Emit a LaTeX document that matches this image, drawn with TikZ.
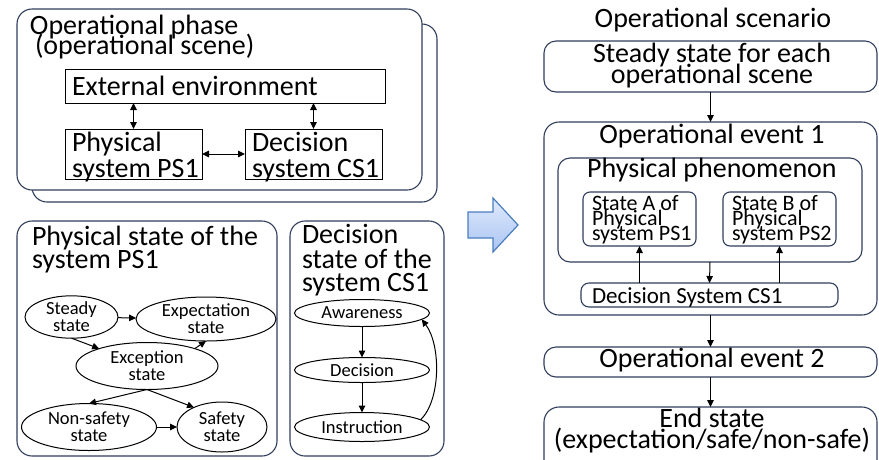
\documentclass[tikz,border=0pt]{standalone}
\usepackage{fontspec}
\setmainfont{Carlito}
\usetikzlibrary{shapes.geometric,arrows.meta,fit}

\definecolor{framec}{RGB}{48,62,92}
\definecolor{arrowtop}{RGB}{224,234,252}
\definecolor{arrowbot}{RGB}{170,196,242}
\definecolor{arrowline}{RGB}{74,126,191}

\begin{document}
\begin{tikzpicture}[x=1pt,y=-1pt,
  every node/.style={inner sep=0pt, outer sep=0pt},
  frame/.style={draw=framec, line width=1.1pt, rounded corners=#1, fill=white},
  frame/.default=15pt,
  plain/.style={draw=black, line width=1pt, fill=white},
  big/.style={font=\fontsize{28}{28}\selectfont},
  mid/.style={font=\fontsize{23}{23}\selectfont},
  small/.style={font=\fontsize{22}{22}\selectfont},
  oval/.style={ellipse, draw=black, line width=1pt, align=center,
               font=\fontsize{18.5}{17}\selectfont},
  arr/.style={-{Triangle[length=7pt,width=6.5pt]}, line width=1pt},
  darr/.style={{Triangle[length=7pt,width=6.5pt]}-{Triangle[length=7pt,width=6.5pt]}, line width=1pt},
]
\useasboundingbox (0,0) rectangle (879,459);

% ---------- operational phase (stacked frames) ----------
\node[frame, fit={(32,24)(437,202)}] (phaseback) {};
\node[frame, fit={(17,9)(422,190)}] (phase) {};
\node[big, anchor=base west] (phaseA) at (30,34) {Operational phase};
\node[big, anchor=base west] (phaseB) at (35,54) {(operational scene)};

\node[plain, fit={(65,69)(385,103)}] (ext) {};
\node[big, anchor=base west] (extT) at (72,95) {External environment};

\node[plain, fit={(65,129)(202,179)}] (phys) {};
\node[big, anchor=base west] (physA) at (72,151) {Physical};
\node[big, anchor=base west] (physB) at (72,177) {system PS1};

\node[plain, fit={(245,129)(382,179)}] (dec) {};
\node[big, anchor=base west] (decA) at (252,151) {Decision};
\node[big, anchor=base west] (decB) at (252,177) {system CS1};

\draw[darr] (phys.north |- ext.south) -- (phys.north);
\draw[darr] (dec.north |- ext.south) -- (dec.north);
\draw[darr] (phys.east) -- (dec.west);

% ---------- physical state of PS1 ----------
\node[frame, fit={(17,221)(277,456)}] (pstate) {};
\node[big, anchor=base west] (pstateA) at (32,245) {Physical state of the};
\node[big, anchor=base west] (pstateB) at (32,268) {system PS1};

\node[oval, minimum width=93, minimum height=41] (steady) at (71.5,317) {Steady\\state};
\node[oval, minimum width=140, minimum height=44] (expect) at (206,319) {Expectation\\state};
\node[oval, minimum width=142, minimum height=47] (except) at (147,366) {Exception\\state};
\node[oval, minimum width=135, minimum height=47] (nonsafe) at (89,427) {Non-safety\\state};
\node[oval, minimum width=90, minimum height=50] (safety) at (222,427) {Safety\\state};

\draw[arr] (steady) -- (expect);
\draw[arr] (steady.south) -- (except.160);
\draw[arr] (except.20) -- (expect.south);
\draw[arr] (except.south) -- (nonsafe.north);
\draw[arr] (except.south) -- (safety.145);
\draw[arr] (nonsafe) -- (safety);

% ---------- decision state of CS1 ----------
\node[frame, fit={(290,221)(444,456)}] (dstate) {};
\node[big, anchor=base west] (dstateA) at (302,243) {Decision};
\node[big, anchor=base west] (dstateB) at (302,268) {state of the};
\node[big, anchor=base west] (dstateC) at (302,291) {system CS1};

\node[oval, minimum width=135, minimum height=27] (aware) at (362,313) {Awareness};
\node[oval, minimum width=135, minimum height=25] (decn) at (362,370) {Decision};
\node[oval, minimum width=135, minimum height=29] (instr) at (362,427) {Instruction};

\draw[arr] (aware.south) -- (decn.north);
\draw[arr] (decn.south) -- (instr.north);
\draw[arr] (instr.7) .. controls (441,400) and (441,345) .. (aware.-6);

% ---------- transition arrow ----------
\draw[draw=arrowline, line width=1.2pt, top color=arrowtop, bottom color=arrowbot]
  (468,212) -- (493,212) -- (493,198) -- (518,225) -- (493,252) -- (493,238) -- (468,238) -- cycle;

% ---------- operational scenario ----------
\node[big, anchor=base] (scen) at (713,27) {Operational scenario};

\node[frame=12pt, fit={(544,41)(877,92)}] (steady2) {};
\node[big, anchor=base] (steady2A) at (712,62) {Steady state for each};
\node[big, anchor=base] (steady2B) at (712,83) {operational scene};

\node[frame, fit={(544,122)(877,315)}] (ev1) {};
\node[big, anchor=base] (ev1T) at (712,143) {Operational event 1};

\node[frame=12pt, fit={(558,158)(862,262)}] (phen) {};
\node[big, anchor=base] (phenT) at (712,177) {Physical phenomenon};

\node[frame=7pt, fit={(583,192)(696,246)}] (sta) {};
\node[small, anchor=base west] (staA) at (592,210) {State A of};
\node[small, anchor=base west] (staB) at (592,225) {Physical};
\node[small, anchor=base west] (staC) at (592,240) {system PS1};

\node[frame=7pt, fit={(723,192)(836,246)}] (stb) {};
\node[small, anchor=base west] (stbA) at (732,210) {State B of};
\node[small, anchor=base west] (stbB) at (732,225) {Physical};
\node[small, anchor=base west] (stbC) at (732,240) {system PS2};

\node[frame=8pt, fit={(581,283)(838,307)}] (dcs) {};
\node[mid, anchor=base west] (dcsT) at (592,303) {Decision System CS1};

\draw[arr] (phen.south) -- (dcs.north);
\draw[arr] (dcs.north -| sta.south) -- (sta.south);
\draw[arr] (dcs.north -| stb.south) -- (stb.south);

\node[frame=12pt, fit={(544,347)(877,377)}] (ev2) {};
\node[big, anchor=base] (ev2T) at (712,367) {Operational event 2};

\node[frame, fit={(544,407)(877,478)}] (endst) {};
\node[big, anchor=base] (endA) at (712,427) {End state};
\node[big, anchor=base] (endB) at (712,448) {(expectation/safe/non-safe)};

\draw[arr] (steady2.south) -- (ev1.north);
\draw[arr] (ev1.south) -- (ev2.north);
\draw[arr] (ev2.south) -- (endst.north);
\end{tikzpicture}
\end{document}
